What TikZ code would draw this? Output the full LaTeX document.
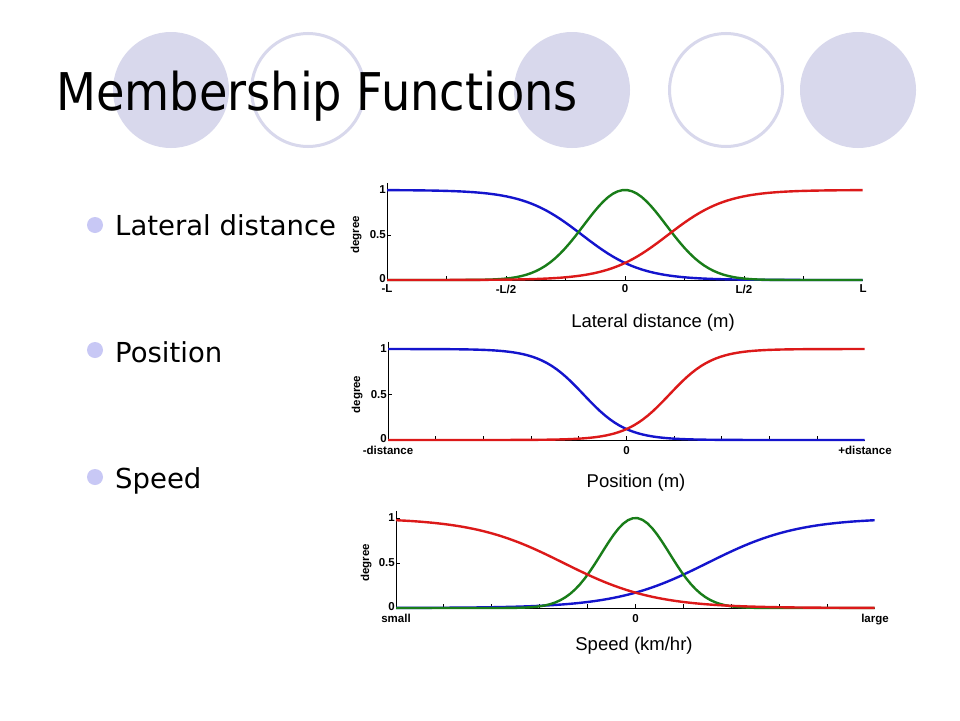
\documentclass[tikz,border=0pt]{standalone}
\usepackage{fontspec}
\usepackage{graphicx}
\setmainfont{DejaVu Sans}
\newfontfamily\plotfont{Liberation Sans}
\usetikzlibrary{positioning}

\definecolor{lilac}{RGB}{216,216,236}
\definecolor{dotcol}{RGB}{200,200,245}
\definecolor{mfblue}{RGB}{20,20,205}
\definecolor{mfred}{RGB}{220,25,25}
\definecolor{mfgreen}{RGB}{25,125,25}

\tikzset{
    declare function={
        zfall(\u,\a,\c)=1/(1+exp(min(9,(\a)*((\u)-(\c)))));
        zrise(\u,\a,\c)=1/(1+exp(min(9,-(\a)*((\u)-(\c)))));
        bell(\u,\s)=exp(max(-9,-(\u)*(\u)/(2*(\s)*(\s))));
    },
    mf/.style={line width=2.4pt, line join=round},
    axisline/.style={line width=0.9pt},
    ticklab/.style={font=\plotfont\bfseries\fontsize{11.5}{11.5}\selectfont, inner sep=0pt},
    axlab/.style={font=\plotfont\fontsize{18.5}{18.5}\selectfont, inner sep=0pt, anchor=base},
    bullet/.style={font=\fontsize{27.5}{30}\selectfont, anchor=base west, inner sep=0pt},
}

\begin{document}
\begin{tikzpicture}[x=1pt, y=-1pt]
    \useasboundingbox (0,0) rectangle (960,720);
    \fill[white] (0,0) rectangle (960,720);

    % circles behind the title
    \fill[lilac] (171,90) circle (58pt);
    \draw[lilac, line width=3pt] (308,90) circle (56.5pt);
    \fill[lilac] (572,90) circle (58pt);
    \draw[lilac, line width=3pt] (726,90) circle (56.5pt);
    \fill[lilac] (858,90) circle (58pt);

    \node[anchor=base west, inner sep=0pt] (title) at (56,110)
        {\scalebox{0.89}[1]{\fontsize{52}{52}\selectfont Membership Functions}};

    % bullets
    \fill[dotcol] (95,225) circle (8pt);
    \node[bullet] (blat) at (115,235) {Lateral distance};
    \fill[dotcol] (95,350) circle (8pt);
    \node[bullet] (bpos) at (115,362) {Position};
    \fill[dotcol] (95,477) circle (8pt);
    \node[bullet] (bspd) at (115,488) {Speed};

    % lateral distance
    \begin{scope}[shift={(625,280)}, x=238pt, y=90pt]
        \draw[axisline] (-1,1.08) -- (-1,0) -- (1,0);
        \foreach \k in {1,...,7}
            \draw[axisline] (-1+\k*0.25,0) -- ++(0pt,4pt);
        \foreach \v in {0.5,1}
            \draw[axisline] (-1,\v) -- ++(4pt,0pt);
        \node[ticklab, left=1pt] (lone) at (-1,1) {1};
        \node[ticklab, left=1pt] (lhalf) at (-1,0.5) {0.5};
        \node[ticklab, left=1pt] (lzero) at ([yshift=1pt]-1,0) {0};
        \node[ticklab, rotate=90, anchor=base] (ldeg) at ([xshift=-28pt]-1,0.5) {degree};
        \node[ticklab, below=4.5pt] (lxa) at (-1,0) {-L};
        \node[ticklab, below=4.5pt] (lxb) at (-0.5,0) {-L/2};
        \node[ticklab, below=4.5pt] (lxc) at (0,0) {0};
        \node[ticklab, below=4.5pt] (lxd) at (0.5,0) {L/2};
        \node[ticklab, below=4.5pt] (lxe) at (1,0) {L};
        \draw[mf, mfblue] plot[domain=-1:1, samples=100] (\x, {zfall(\x,8.08,-0.18)});
        \draw[mf, mfgreen] plot[domain=-1:1, samples=100] (\x, {bell(\x,0.174)});
        \draw[mf, mfred] plot[domain=-1:1, samples=100] (\x, {zrise(\x,8.08,0.18)});
    \end{scope}
    \node[axlab] (latlab) at (653,327) {Lateral distance (m)};

    % position
    \begin{scope}[shift={(626.5,440)}, x=238.5pt, y=91pt]
        \draw[axisline] (-1,1.08) -- (-1,0) -- (1,0);
        \foreach \k in {1,...,9}
            \draw[axisline] (-1+\k*0.2,0) -- ++(0pt,4pt);
        \foreach \v in {0.5,1}
            \draw[axisline] (-1,\v) -- ++(4pt,0pt);
        \node[ticklab, left=1pt] (pone) at (-1,1) {1};
        \node[ticklab, left=1pt] (phalf) at (-1,0.5) {0.5};
        \node[ticklab, left=1pt] (pzero) at ([yshift=1pt]-1,0) {0};
        \node[ticklab, rotate=90, anchor=base] (pdeg) at ([xshift=-28pt]-1,0.5) {degree};
        \node[ticklab, below=6pt] (pxa) at (-1,0) {-distance};
        \node[ticklab, below=6pt] (pxb) at (0,0) {0};
        \node[ticklab, below=6pt] (pxc) at (1,0) {+distance};
        \draw[mf, mfblue] plot[domain=-1:1, samples=100] (\x, {zfall(\x,11.07,-0.18)});
        \draw[mf, mfred] plot[domain=-1:1, samples=100] (\x, {zrise(\x,11.07,0.18)});
    \end{scope}
    \node[axlab] (poslab) at (636,487) {Position (m)};

    % speed
    \begin{scope}[shift={(635.5,608)}, x=239.5pt, y=90pt]
        \draw[axisline] (-1,1.08) -- (-1,0) -- (1,0);
        \foreach \k in {1,...,9}
            \draw[axisline] (-1+\k*0.2,0) -- ++(0pt,4pt);
        \foreach \v in {0.5,1}
            \draw[axisline] (-1,\v) -- ++(4pt,0pt);
        \node[ticklab, left=1pt] (sone) at (-1,1) {1};
        \node[ticklab, left=1pt] (shalf) at (-1,0.5) {0.5};
        \node[ticklab, left=1pt] (szero) at ([yshift=1pt]-1,0) {0};
        \node[ticklab, rotate=90, anchor=base] (sdeg) at ([xshift=-27pt]-1,0.5) {degree};
        \node[ticklab, below=6pt] (sxa) at (-1,0) {small};
        \node[ticklab, below=6pt] (sxb) at (0,0) {0};
        \node[ticklab, below=6pt] (sxc) at (1,0) {large};
        \draw[mf, mfblue] plot[domain=-1:1, samples=100] (\x, {zrise(\x,5.27,0.30)});
        \draw[mf, mfgreen] plot[domain=-1:1, samples=100] (\x, {bell(\x,0.142)});
        \draw[mf, mfred] plot[domain=-1:1, samples=100] (\x, {zfall(\x,5.27,-0.30)});
    \end{scope}
    \node[axlab] (spdlab) at (634,650) {Speed (km/hr)};
\end{tikzpicture}
\end{document}
